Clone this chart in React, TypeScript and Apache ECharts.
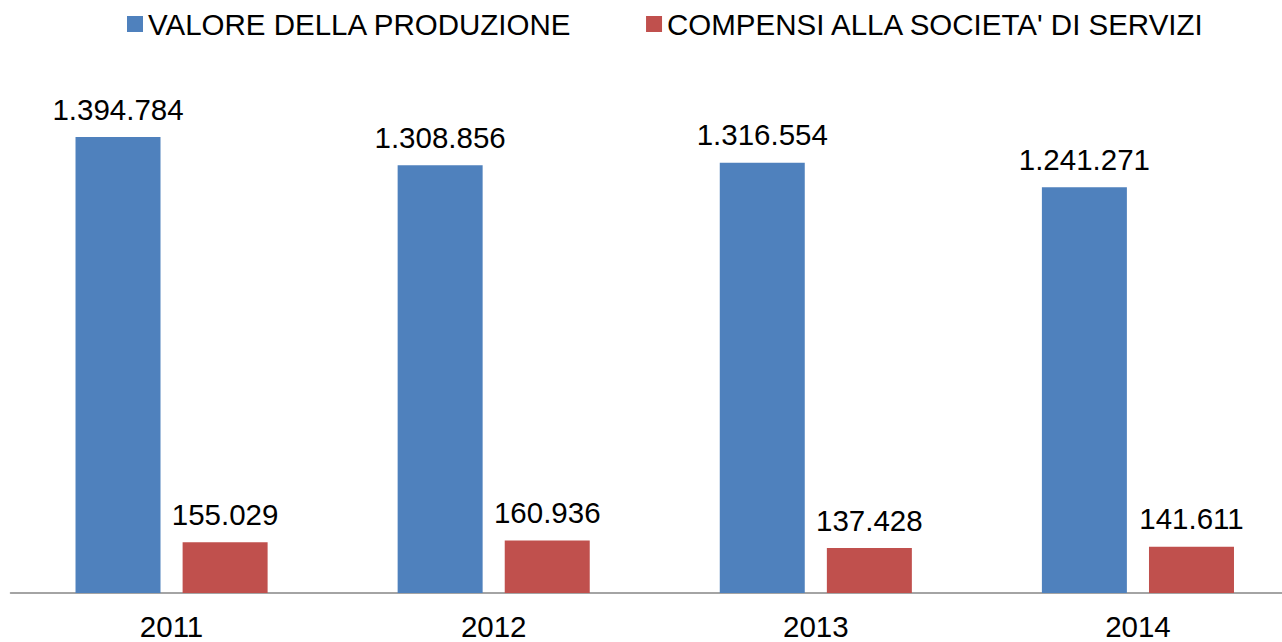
import React, { useEffect, useRef } from "react";
import * as echarts from "echarts";

const categories = ["2011", "2012", "2013", "2014"];
const valoreProduzione = [1394784, 1308856, 1316554, 1241271];
const compensiSocieta = [155029, 160936, 137428, 141611];
const seriesNames = ["VALORE DELLA PRODUZIONE", "COMPENSI ALLA SOCIETA' DI SERVIZI"];

const fmt = (v: number) => String(Math.round(v)).replace(/\B(?=(\d{3})+(?!\d))/g, ".");

export default function App() {
  const ref = useRef<HTMLDivElement>(null);
  useEffect(() => {
    if (!ref.current) return;
    const chart = echarts.init(ref.current, undefined, { renderer: "svg" });
    const font = "'Liberation Sans', Arial, sans-serif";
    const label = {
      show: true,
      position: "top" as const,
      distance: 13,
      color: "#000",
      fontSize: 29.5,
      fontFamily: font,
      formatter: (p: any) => fmt(p.value),
    };
    chart.setOption({
      animation: false,
      backgroundColor: "#fff",
      textStyle: { fontFamily: font },
      legend: {
        top: 9,
        left: 127,
        padding: 0,
        itemWidth: 16,
        itemHeight: 16,
        itemGap: 74,
        icon: "rect",
        textStyle: { fontSize: 29.5, color: "#000", fontFamily: font },
        data: seriesNames,
      },
      grid: { left: 10.5, right: 0, top: 70, bottom: 49, containLabel: false },
      xAxis: {
        type: "category",
        data: categories,
        axisLine: { lineStyle: { color: "#868686", width: 1.5 } },
        axisTick: { show: false },
        axisLabel: { color: "#000", fontSize: 29.5, fontFamily: font, margin: 18 },
      },
      yAxis: {
        type: "value",
        min: 0,
        max: 1600000,
        show: false,
        splitLine: { show: false },
      },
      series: [
        {
          name: seriesNames[0],
          type: "bar",
          data: valoreProduzione,
          barWidth: 85,
          barGap: "26%",
          itemStyle: { color: "#4F81BD" },
          label,
        },
        {
          name: seriesNames[1],
          type: "bar",
          data: compensiSocieta,
          barWidth: 85,
          itemStyle: { color: "#C0504D" },
          label,
        },
      ],
    });
    return () => chart.dispose();
  }, []);
  return (
    <div
      style={{
        position: "absolute",
        left: 0,
        top: 0,
        width: 1282,
        height: 642,
        overflow: "hidden",
      }}
    >
      <div ref={ref} style={{ width: 1299, height: 642 }} />
    </div>
  );
}
